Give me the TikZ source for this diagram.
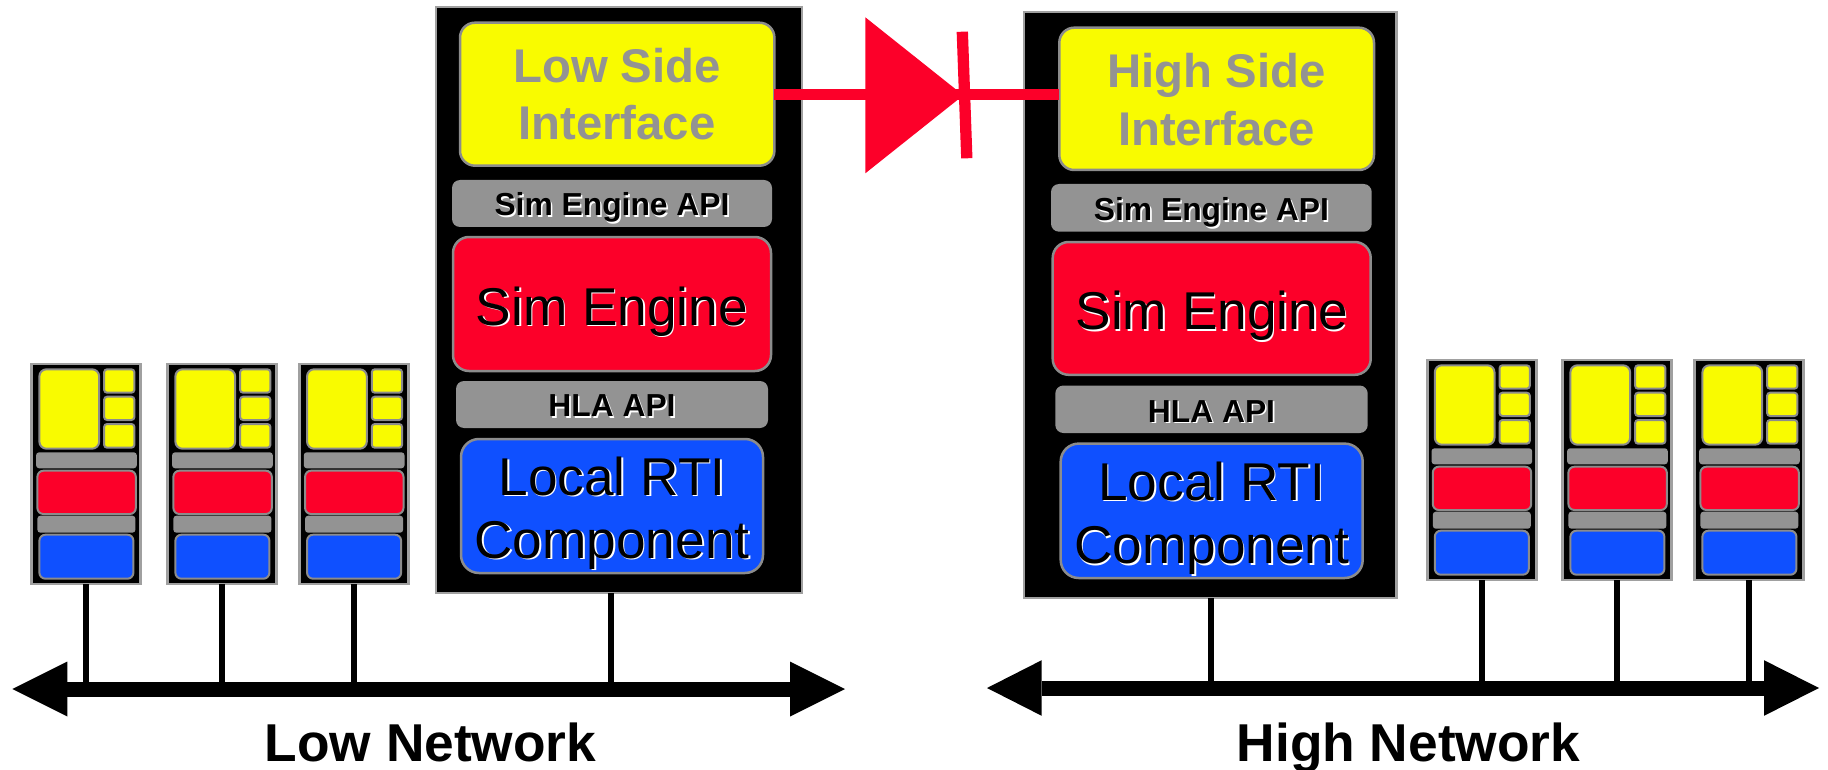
\documentclass[tikz,border=0pt]{standalone}
\usepackage{fontspec}
\setmainfont{Liberation Sans}
\definecolor{hyel}{HTML}{F9FB00}
\definecolor{hred}{HTML}{FC0029}
\definecolor{hblue}{HTML}{0F50FF}
\definecolor{hgray}{HTML}{939393}
\definecolor{edgegray}{HTML}{8C8C8C}
\definecolor{framegray}{HTML}{A0A0A0}
\tikzset{
  every node/.style={inner sep=0pt, outer sep=0pt},
  bigbox/.style={draw=framegray, line width=2.5pt, fill=black},
  ifbox/.style={draw=edgegray, line width=2.5pt, fill=hyel, rounded corners=15pt},
  apibar/.style={fill=hgray, rounded corners=8pt},
  engbox/.style={draw=edgegray, line width=2.5pt, fill=hred, rounded corners=16pt},
  rtibox/.style={draw=edgegray, line width=2.5pt, fill=hblue, rounded corners=18pt},
  devbox/.style={draw=framegray, line width=2.7pt, fill=black},
  dyel/.style={draw=edgegray, line width=2pt, fill=hyel, rounded corners=7pt},
  dsyel/.style={draw=edgegray, line width=2pt, fill=hyel, rounded corners=3pt},
  dbar/.style={fill=hgray, rounded corners=3pt},
  dred/.style={draw=edgegray, line width=2pt, fill=hred, rounded corners=6pt},
  dblue/.style={draw=edgegray, line width=2pt, fill=hblue, rounded corners=6pt},
  stub/.style={draw=black, line width=6pt},
  netbar/.style={draw=black, line width=15pt},
  diodeline/.style={draw=hred, line width=11pt},
  iftext/.style={anchor=base, text=hgray, font=\bfseries\fontsize{47.3}{50}\selectfont},
  apitext/.style={anchor=base, font=\bfseries\fontsize{31.8}{36}\selectfont},
  bigtext/.style={anchor=base, font=\fontsize{53.2}{60}\selectfont},
  nettext/.style={anchor=base, text=black, font=\bfseries\fontsize{53.3}{60}\selectfont},
}
\newcommand\rbox[6]{%
  \node[#6, minimum width={#4-#2}, minimum height={#5-#3}] (#1) at ({(#2+#4)/2},{(#3+#5)/2}) {};}
\newcommand\embtext[5]{%
  \node[#4, text=white] (#1s) at ({#2+1.6},{#3+1.6}) {#5};
  \node[#4, text=black] (#1) at (#2,#3) {#5};}
\newcommand\device[3]{%
  \begin{scope}[shift={(#2,#3)}]
    \rbox{#1}{0}{0}{109}{220}{devbox}
    \rbox{#1ya}{7.6}{5.3}{67.3}{84.7}{dyel}
    \rbox{#1yb}{72.3}{5.3}{102.6}{28.7}{dsyel}
    \rbox{#1yc}{72.3}{32.7}{102.6}{56}{dsyel}
    \rbox{#1yd}{72.3}{60}{102.6}{83.7}{dsyel}
    \rbox{#1ga}{4.3}{88.3}{105}{104.3}{dbar}
    \rbox{#1r}{5.6}{106.7}{104}{150}{dred}
    \rbox{#1gb}{5.6}{151.7}{103.6}{168.7}{dbar}
    \rbox{#1b}{7.6}{170.7}{101.6}{214.7}{dblue}
  \end{scope}}
\begin{document}
\begin{tikzpicture}[x=1pt, y=-1pt]
\useasboundingbox (0,0) rectangle (1828,770);

% network coordinates
\coordinate (lowL) at (67.3,689);
\coordinate (lowR) at (790,689);
\coordinate (highL) at (1041.7,688);
\coordinate (highR) at (1764,688);

% ---------- left stack ----------
\rbox{lbox}{436}{7}{802}{593}{bigbox}
\rbox{lsi}{460}{22.7}{774.4}{165.7}{ifbox}
\rbox{lapi}{452}{180}{772}{227}{apibar}
\rbox{lse}{453}{237}{771}{371}{engbox}
\rbox{lhla}{456}{381}{768}{428}{apibar}
\rbox{lrti}{461}{439}{763}{573}{rtibox}
\node[iftext] (lsit1) at (617,82.7) {Low Side};
\node[iftext] (lsit2) at (617,140) {Interface};
\embtext{lapit}{612}{215.7}{apitext}{Sim Engine API}
\embtext{lset}{612}{325}{bigtext}{Sim Engine}
\embtext{lhlat}{612}{416.7}{apitext}{HLA API}
\embtext{lrtit1}{612}{495}{bigtext}{Local RTI}
\embtext{lrtit2}{612}{558.3}{bigtext}{Component}

% ---------- right stack ----------
\rbox{rbox}{1024}{12}{1396.7}{598}{bigbox}
\rbox{hsi}{1059.3}{27.7}{1374}{170}{ifbox}
\rbox{hapi}{1051}{184}{1371.7}{231.7}{apibar}
\rbox{hse}{1052.7}{242}{1370.7}{374.8}{engbox}
\rbox{hhla}{1055.3}{385.5}{1367.7}{433}{apibar}
\rbox{hrti}{1060.7}{443.6}{1362.7}{578}{rtibox}
\node[iftext] (hsit1) at (1216.7,87.8) {High Side};
\node[iftext] (hsit2) at (1216.7,145.3) {Interface};
\embtext{hapit}{1211.4}{221}{apitext}{Sim Engine API}
\embtext{hset}{1211.7}{329.5}{bigtext}{Sim Engine}
\embtext{hhlat}{1211.5}{422}{apitext}{HLA API}
\embtext{hrtit1}{1211.7}{500}{bigtext}{Local RTI}
\embtext{hrtit2}{1211.7}{563.5}{bigtext}{Component}

% ---------- diode ----------
\draw[diodeline] (lsi.east |- 0,95) -- (hsi.west |- 0,95);
\fill[hred] (865.3,17.3) -- (963.3,95.3) -- (865.3,173.3) -- cycle;
\draw[hred, line width=11.3pt] (962.3,31.7) -- (966.8,158.3);

% ---------- devices ----------
\device{da}{31.8}{364}
\device{db}{167.8}{364}
\device{dc}{299.5}{364}
\device{dd}{1427.2}{360}
\device{de}{1562.8}{360}
\device{df}{1694.8}{360}

% ---------- stubs ----------
\draw[stub] (da.south) -- (da.south |- lowL);
\draw[stub] (db.south) -- (db.south |- lowL);
\draw[stub] (dc.south) -- (dc.south |- lowL);
\draw[stub] (lbox.south -| 611,0) -- (611,0 |- lowL);
\draw[stub] (rbox.south -| 1210.7,0) -- (1210.7,0 |- highL);
\draw[stub] (dd.south) -- (dd.south |- highL);
\draw[stub] (de.south) -- (de.south |- highL);
\draw[stub] (df.south) -- (df.south |- highL);

% ---------- networks ----------
\draw[netbar] (lowL) -- (lowR);
\fill[black] (12.3,689) -- (67.3,661.5) -- (67.3,716.5) -- cycle;
\fill[black] (845,689) -- (790,661.5) -- (790,716.5) -- cycle;
\draw[netbar] (highL) -- (highR);
\fill[black] (987,688) -- (1041.7,660.2) -- (1041.7,715.8) -- cycle;
\fill[black] (1819,688) -- (1764,660.2) -- (1764,715.8) -- cycle;
\node[nettext] (lownet) at (430.5,761) {Low Network};
\node[nettext] (highnet) at (1408.5,761) {High Network};
\end{tikzpicture}
\end{document}
